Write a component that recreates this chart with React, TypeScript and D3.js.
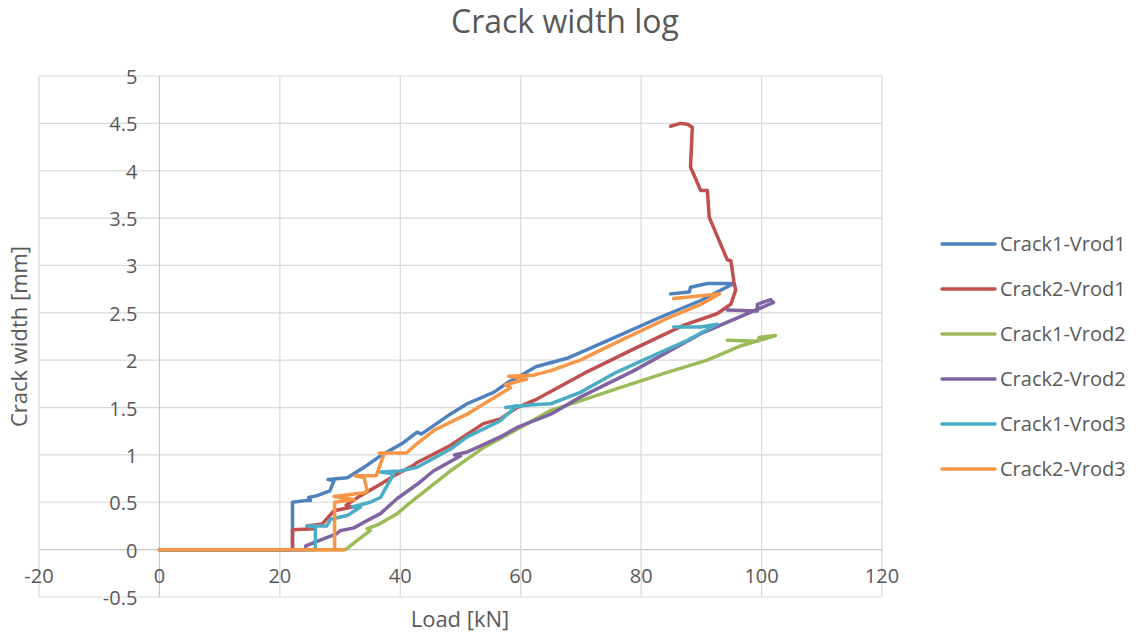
import React from "react";
import * as d3 from "d3";

const TITLE = "Crack width log";
const X_TITLE = "Load [kN]";
const Y_TITLE = "Crack width [mm]";
const xTicks = [-20, 0, 20, 40, 60, 80, 100, 120];
const yTicks = [-0.5, 0, 0.5, 1, 1.5, 2, 2.5, 3, 3.5, 4, 4.5, 5];

const seriesNames = ["Crack1-Vrod1", "Crack2-Vrod1", "Crack1-Vrod2", "Crack2-Vrod2", "Crack1-Vrod3", "Crack2-Vrod3"];
const seriesColors = ["#4F81BD", "#C0504D", "#9BBB59", "#8064A2", "#4BACC6", "#F79646"];

const crack1Vrod1: [number, number][] = [
  [0, 0], [22.1, 0], [22.1, 0.5], [24.5, 0.52], [25.1, 0.52], [24.8, 0.55], [26.2, 0.57], [28.3, 0.62],
  [29, 0.73], [28, 0.74], [31.2, 0.76], [34, 0.87], [36.7, 0.99], [40.3, 1.12], [42.8, 1.24], [43.5, 1.22],
  [48.3, 1.43], [51.1, 1.54], [55.5, 1.66], [58, 1.77], [60.1, 1.84], [62.5, 1.93], [67.7, 2.02],
  [74.9, 2.22], [82.7, 2.44], [89.9, 2.63], [95.4, 2.81], [91, 2.81], [88.2, 2.77], [88, 2.72], [84.9, 2.7],
];
const crack2Vrod1: [number, number][] = [
  [0, 0], [22.1, 0], [22.1, 0.21], [25.6, 0.22], [24.5, 0.25], [27, 0.27], [29, 0.41], [32, 0.45], [31, 0.47],
  [33.4, 0.57], [36.7, 0.69], [39.5, 0.8], [42.2, 0.89], [42.8, 0.92], [48.3, 1.1], [53.8, 1.33], [56.6, 1.38],
  [59.4, 1.5], [62.7, 1.59], [70.5, 1.86], [78.8, 2.12], [87.1, 2.37], [92.6, 2.49], [94.9, 2.59], [95.7, 2.74],
  [95.4, 2.83], [94.9, 3.05], [94.3, 3.06], [91.3, 3.51], [91, 3.79], [89.9, 3.79], [88.2, 4.04], [88.5, 4.46],
  [87.7, 4.49], [86.5, 4.5], [84.9, 4.47],
];
const crack1Vrod2: [number, number][] = [
  [0, 0], [30.9, 0], [32.8, 0.095], [35, 0.2], [34.5, 0.22], [36.5, 0.27], [39.5, 0.38], [41.7, 0.5],
  [44.5, 0.64], [48.3, 0.83], [53.9, 1.08], [59.4, 1.27], [65, 1.47], [69.9, 1.57], [76, 1.7], [83.8, 1.86],
  [91, 2.0], [96.5, 2.15], [102.3, 2.26], [99.6, 2.24], [99.3, 2.2], [94.3, 2.21],
];
const crack2Vrod2: [number, number][] = [
  [0, 0], [24.3, 0], [24.3, 0.04], [26.7, 0.1], [29.5, 0.17], [30, 0.2], [32.3, 0.23], [34, 0.29], [36.7, 0.38],
  [39.5, 0.54], [42.8, 0.69], [45.5, 0.83], [50, 0.99], [49, 1.0], [51.1, 1.03], [56.6, 1.19], [59.4, 1.29],
  [65, 1.43], [69.9, 1.61], [78.8, 1.89], [89.9, 2.28], [102, 2.61], [101.5, 2.64], [99.3, 2.59], [99.3, 2.52],
  [94.3, 2.53],
];
const crack1Vrod3: [number, number][] = [
  [0, 0], [25.9, 0], [25.9, 0.24], [24.5, 0.25], [27.8, 0.25], [28.4, 0.32], [31.2, 0.36], [33.4, 0.45],
  [32, 0.45], [35, 0.5], [36.7, 0.55], [38.9, 0.8], [36.7, 0.82], [40, 0.83], [42.8, 0.87], [48.3, 1.06],
  [51.1, 1.19], [56.6, 1.36], [57.8, 1.43], [59.4, 1.52], [57.5, 1.5], [62, 1.53], [65, 1.54], [69.9, 1.66],
  [75.5, 1.86], [82.1, 2.05], [87.7, 2.21], [92.6, 2.38], [89.9, 2.35], [85.4, 2.35],
];
const crack2Vrod3: [number, number][] = [
  [0, 0], [30.6, 0], [29.1, 0], [29.1, 0.5], [32.3, 0.53], [29, 0.56], [34, 0.6], [34.5, 0.62], [34, 0.76],
  [32.5, 0.78], [36, 0.78], [37.3, 1.01], [36.5, 1.02], [41, 1.02], [42.8, 1.12], [45.6, 1.26], [51.1, 1.43],
  [53.9, 1.54], [58.3, 1.71], [57.5, 1.74], [61, 1.8], [58, 1.83], [62, 1.84], [65, 1.89], [69.9, 2.0],
  [76, 2.19], [84.3, 2.44], [89.9, 2.59], [93, 2.7], [85.4, 2.65],
];

const seriesData = [crack1Vrod1, crack2Vrod1, crack1Vrod2, crack2Vrod2, crack1Vrod3, crack2Vrod3];

const W = 1136;
const H = 632;
const FONT = "'Open Sans', 'DejaVu Sans', sans-serif";
const TEXT = "#595959";

export default function App() {
  const x = d3.scaleLinear().domain([-20, 120]).range([39, 882]);
  const y = d3.scaleLinear().domain([-0.5, 5]).range([597, 76]);
  const line = d3
    .line<[number, number]>()
    .x((d) => x(d[0]))
    .y((d) => y(d[1]));

  return (
    <svg
      width={W}
      height={H}
      style={{ position: "absolute", left: 0, top: 0, background: "#fff" }}
      fontFamily={FONT}
    >
      <rect width={W} height={H} fill="#fff" />
      {yTicks.map((t) => (
        <line key={"gy" + t} x1={x(-20)} x2={x(120)} y1={y(t)} y2={y(t)} stroke={t === 0 ? "#C8C8C8" : "#D9D9D9"} strokeWidth={1.2} />
      ))}
      {xTicks.map((t) => (
        <line key={"gx" + t} x1={x(t)} x2={x(t)} y1={y(5)} y2={y(-0.5)} stroke={t === 0 ? "#C8C8C8" : "#D9D9D9"} strokeWidth={1.2} />
      ))}
      {yTicks.map((t) => (
        <text key={"ty" + t} x={x(0) - 22} y={y(t)} dy="0.4em" textAnchor="end" fontSize={20} fill={TEXT}>
          {String(t)}
        </text>
      ))}
      {xTicks.map((t) => (
        <text key={"tx" + t} x={x(t)} y={y(0) + 33} textAnchor="middle" fontSize={20} fill={TEXT}>
          {String(t)}
        </text>
      ))}
      {seriesData.map((s, i) => (
        <path
          key={seriesNames[i]}
          d={line(s) || ""}
          fill="none"
          stroke={seriesColors[i]}
          strokeWidth={3.5}
          strokeLinejoin="round"
          strokeLinecap="round"
        />
      ))}
      <text x={565} y={33} textAnchor="middle" fontSize={32} fill={TEXT}>
        {TITLE}
      </text>
      <text x={460} y={627} textAnchor="middle" fontSize={22} fill={TEXT}>
        {X_TITLE}
      </text>
      <text
        transform={`translate(27, ${(y(5) + y(-0.5)) / 2}) rotate(-90)`}
        textAnchor="middle"
        fontSize={22}
        fill={TEXT}
      >
        {Y_TITLE}
      </text>
      {seriesNames.map((n, i) => {
        const ly = 244 + i * 45;
        return (
          <g key={"lg" + n}>
            <line x1={942} x2={995} y1={ly} y2={ly} stroke={seriesColors[i]} strokeWidth={3.5} strokeLinecap="round" />
            <text x={1000} y={ly} dy="0.35em" fontSize={20} fill={TEXT}>
              {n}
            </text>
          </g>
        );
      })}
    </svg>
  );
}
